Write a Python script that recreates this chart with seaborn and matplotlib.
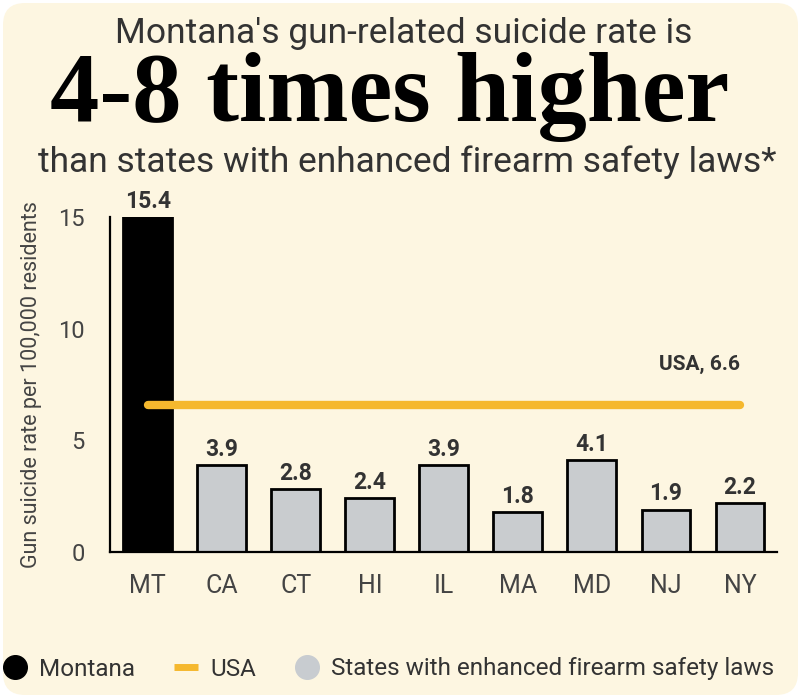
import matplotlib
matplotlib.use("Agg")
import matplotlib.pyplot as plt
import seaborn as sns
import pandas as pd
from matplotlib.patches import FancyBboxPatch
from matplotlib.lines import Line2D

# ---- data ----
states = ["MT", "CA", "CT", "HI", "IL", "MA", "MD", "NJ", "NY"]
rates = [15.4, 3.9, 2.8, 2.4, 3.9, 1.8, 4.1, 1.9, 2.2]
groups = ["Montana"] + ["States with enhanced firearm safety laws"] * 8
usa_rate = 6.6
yticks = [0, 5, 10, 15]
legend_labels = ["Montana", "USA", "States with enhanced firearm safety laws"]

BG = "#fdf6e1"
GRAY = "#c8ccd0"
ORANGE = "#f5b82e"
TXT = "#333333"

sns.set_style("white")
plt.rcParams["font.family"] = ["Roboto", "DejaVu Sans"]

fig = plt.figure(figsize=(8.01, 6.98), dpi=100, facecolor="white")
fig.add_artist(FancyBboxPatch((3, 3), 795, 692,
                              boxstyle="round,pad=0,rounding_size=22",
                              transform=None, facecolor=BG, edgecolor="none",
                              zorder=-10))

ax = fig.add_axes([110 / 801, (698 - 552) / 698, 667 / 801, 335 / 698])
ax.set_facecolor("none")

df = pd.DataFrame({"state": states, "rate": rates, "group": groups})
sns.barplot(data=df, x="state", y="rate", hue="group",
            palette={"Montana": "black",
                     "States with enhanced firearm safety laws": GRAY},
            dodge=False, width=0.66, edgecolor="black", linewidth=2,
            legend=False, ax=ax, zorder=2)

ax.set_ylim(0, 15)
ax.set_xlim(-0.51, 8.5)
ax.set_yticks(yticks)
ax.set_yticklabels([str(t) for t in yticks])

for i, v in enumerate(rates):
    ax.annotate(f"{v}", xy=(i, min(v, 15)), xytext=(0, 3),
                textcoords="offset points", ha="center", va="bottom",
                fontsize=16.5, fontweight="bold", color=TXT,
                annotation_clip=False)

ax.plot([0, len(states) - 1], [usa_rate, usa_rate], color=ORANGE, lw=6,
        solid_capstyle="round", zorder=3)
ax.annotate(f"USA, {usa_rate}", xy=(len(states) - 1, usa_rate),
            xytext=(0, 22), textcoords="offset points", ha="right",
            va="bottom", fontsize=15, fontweight="bold", color=TXT)

for s in ["top", "right"]:
    ax.spines[s].set_visible(False)
for s in ["left", "bottom"]:
    ax.spines[s].set_color("black")
    ax.spines[s].set_linewidth(1.6)

ax.tick_params(axis="both", length=13, width=1.6, color="black",
               labelcolor="#444444")
ax.tick_params(axis="y", labelsize=17, pad=5)
ax.tick_params(axis="x", labelsize=18, pad=3)
ax.set_xlabel("")
ax.set_ylabel("Gun suicide rate per 100,000 residents", fontsize=15.5,
              color="#444444", labelpad=12)

fig.text(0.504, 1 - 43 / 698, "Montana's gun-related suicide rate is",
         ha="center", va="baseline", fontsize=25.5, color=TXT)
fig.text(0.487, 1 - 121 / 698, "4-8 times higher",
         ha="center", va="baseline", fontsize=71, fontweight="bold",
         color="black", family=["Liberation Serif", "DejaVu Serif"])
fig.text(0.508, 1 - 172 / 698, "than states with enhanced firearm safety laws*",
         ha="center", va="baseline", fontsize=25.5, color=TXT)

handles = [
    Line2D([], [], marker="o", ls="none", color="black", markersize=17),
    Line2D([], [], color=ORANGE, lw=5, solid_capstyle="butt"),
    Line2D([], [], marker="o", ls="none", markerfacecolor=GRAY,
           markeredgecolor=GRAY, markersize=17),
]
fig.legend(handles, legend_labels, loc="center",
           bbox_to_anchor=(0.485, 1 - 669 / 698), ncol=3, frameon=False,
           fontsize=17.5, handlelength=1.0, handletextpad=0.5,
           columnspacing=1.6, labelcolor=TXT)

fig.savefig("out.png", dpi=100, facecolor="white")
